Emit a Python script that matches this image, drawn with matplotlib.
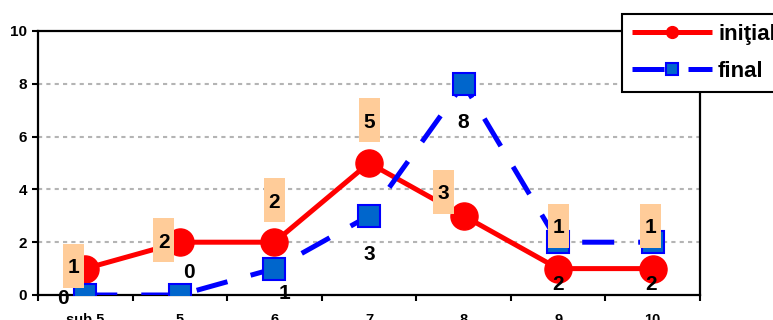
import matplotlib
matplotlib.use('Agg')
import matplotlib.pyplot as plt
from matplotlib.lines import Line2D
from matplotlib.patches import Rectangle
from matplotlib.transforms import ScaledTranslation

# grade groups and counts for both tests
categories = ['sub 5', '5', '6', '7', '8', '9', '10']
initial = [1, 2, 2, 5, 3, 1, 1]
final = [0, 0, 1, 3, 8, 2, 2]

# label offsets from each point, in pixels (x, y up)
initial_offsets = [(-12, 3), (-16, 2), (0, 42), (0, 43), (-20, 24), (0, 43), (-2, 43)]
final_offsets = [(-22, -2), (9, 24), (10, -23), (0, -37), (0, -37), (0, -40), (-2, -40)]

plt.rcParams['font.family'] = ['Liberation Sans', 'DejaVu Sans']
plt.rcParams['font.weight'] = 'bold'

fig = plt.figure(figsize=(7.73, 3.2), dpi=100)
ax = fig.add_axes([38 / 773, 25 / 320, 662 / 773, 264 / 320])

x = list(range(len(categories)))
red = '#FF0000'
blue = '#0000FF'

ax.plot(x, initial, color=red, lw=3.6, marker='o', ms=19.5,
        mfc=red, mec=red, zorder=3, solid_capstyle='butt')
ax.plot(x, final, color=blue, lw=3.6, ls=(0, (6.4, 4.8)), dash_capstyle='butt',
        marker='s', ms=16.5, mfc='#0066CC', mec=blue, mew=1.5, zorder=4)

ax.set_xlim(-0.5, len(categories) - 0.5)
ax.set_ylim(0, 10)
ax.set_yticks(range(0, 11, 2))
ax.set_xticks(x)
ax.set_xticklabels(categories)
ax.set_xticks([i - 0.5 for i in range(len(categories) + 1)], minor=True)
ax.tick_params(axis='x', which='major', length=0, pad=13, labelsize=10.5)
ax.tick_params(axis='x', which='minor', length=4, width=1.5, direction='out')
ax.tick_params(axis='y', length=4, width=1.5, direction='out', pad=4, labelsize=11)
for lbl in ax.get_xticklabels() + ax.get_yticklabels():
    lbl.set_fontweight('bold')

for s in ax.spines.values():
    s.set_linewidth(1.6)

for g in range(2, 10, 2):
    ax.axhline(g, color='#B4B4B4', lw=1.5, ls=(0, (2, 2)), zorder=1)

# value labels: initial with peach boxes, final plain
for xi, v, (dx, dy) in zip(x, initial, initial_offsets):
    ax.add_patch(Rectangle((dx - 10.5, dy - 22), 21, 44, fc='#FFCC99', ec='none',
                           transform=ScaledTranslation(xi, v, ax.transData),
                           zorder=6, clip_on=False))
    ax.annotate(str(v), (xi, v), xytext=(dx, dy), textcoords='offset pixels',
                ha='center', va='center_baseline', fontsize=15, fontweight='bold',
                zorder=7, annotation_clip=False)

for xi, v, (dx, dy) in zip(x, final, final_offsets):
    ax.annotate(str(v), (xi, v), xytext=(dx, dy), textcoords='offset pixels',
                ha='center', va='center_baseline', fontsize=15, fontweight='bold',
                zorder=7, annotation_clip=False)

handles = [
    Line2D([], [], color=red, lw=3.6, marker='o', ms=8.5, mfc=red, mec=red,
           solid_capstyle='butt'),
    Line2D([], [], color=blue, lw=3.6, ls=(0, (6.4, 4.8)), dash_capstyle='butt',
           marker='s', ms=8.5, mfc='#0066CC', mec=blue, mew=1.5),
]
leg = fig.legend(handles, ['iniţial', 'final'], loc='upper left',
                 bbox_to_anchor=(622 / 773, 306 / 320), borderaxespad=0,
                 prop={'size': 16, 'weight': 'bold'}, handlelength=3.6,
                 handletextpad=0.27, borderpad=0.45, labelspacing=0.7,
                 fancybox=False, framealpha=1, edgecolor='black', numpoints=1)
leg.get_frame().set_linewidth(1.5)

fig.savefig('out.png', dpi=100)
